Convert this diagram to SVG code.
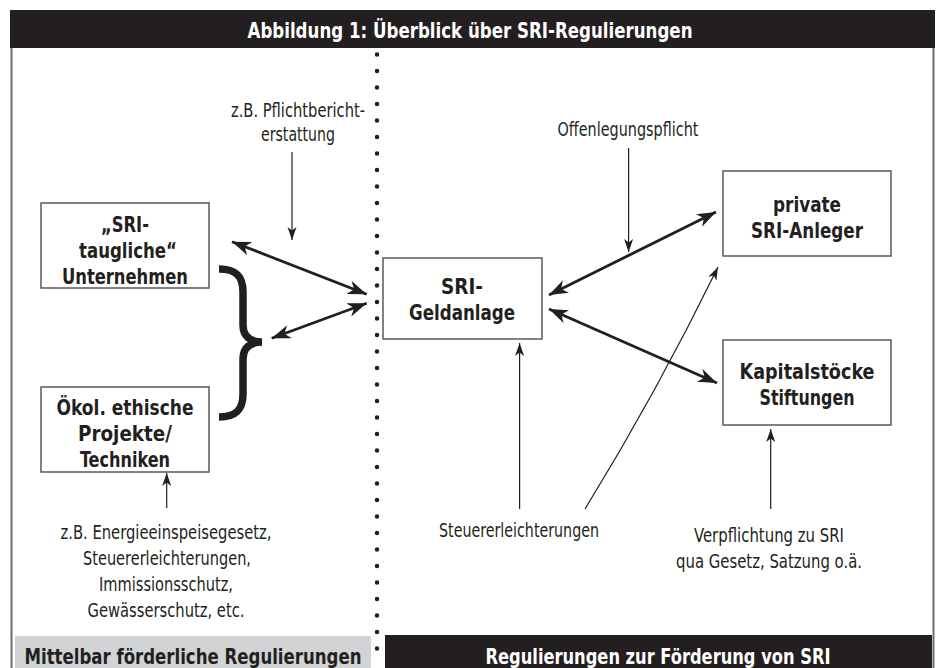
<svg xmlns="http://www.w3.org/2000/svg" width="938" height="668" viewBox="0 0 938 668">
<defs>
<style>
.box{fill:#fff;stroke:#58595b;stroke-width:1.5}
.b{font-family:"Liberation Sans Narrow","DejaVu Sans Condensed","Roboto Condensed","Liberation Sans",sans-serif;font-weight:bold;font-size:22px;fill:#231f20;text-anchor:middle}
.n{font-family:"Liberation Sans Narrow","DejaVu Sans Condensed","Roboto Condensed","Liberation Sans",sans-serif;font-weight:normal;font-size:20px;fill:#231f20;text-anchor:middle}
.w{fill:#fff}
.thick{stroke:#231f20;stroke-width:2.8;fill:none;marker-start:url(#ah);marker-end:url(#ah)}
.thin{stroke:#231f20;stroke-width:1.2;fill:none;marker-end:url(#as)}
.frame{stroke:#6d6e71;stroke-width:2;fill:none}
</style>
<marker id="ah" markerUnits="userSpaceOnUse" markerWidth="21" markerHeight="15" viewBox="0 -7.5 21 15" refX="19" refY="0" orient="auto-start-reverse">
<path d="M0,-7 L19,0 L0,7 L5.5,0 Z" fill="#231f20"/>
</marker>
<marker id="as" markerUnits="userSpaceOnUse" markerWidth="14" markerHeight="10" viewBox="0 -5 14 10" refX="13" refY="0" orient="auto">
<path d="M0,-4.5 L13,0 L0,4.5 L3.5,0 Z" fill="#231f20"/>
</marker>
</defs>
<rect width="938" height="668" fill="#fff"/>

<g id="frame">
<rect x="10" y="10" width="925" height="38" fill="#231f20"/>
<text class="b w" x="470" y="38" font-size="23" textLength="445" lengthAdjust="spacingAndGlyphs">Abbildung 1: Überblick über SRI-Regulierungen</text>
<line class="frame" x1="11.5" y1="48" x2="11.5" y2="668"/>
<line class="frame" x1="933.5" y1="48" x2="933.5" y2="668"/>
<line x1="377" y1="54.5" x2="377" y2="649" stroke="#231f20" stroke-width="4.5" stroke-linecap="round" stroke-dasharray="0 16.5"/>
<rect x="15" y="636" width="356" height="32" fill="#d1d3d4"/>
<text class="b" x="193" y="664" textLength="337" lengthAdjust="spacingAndGlyphs">Mittelbar förderliche Regulierungen</text>
<rect x="385" y="635" width="547" height="33" fill="#231f20"/>
<text class="b w" x="658" y="664" textLength="345" lengthAdjust="spacingAndGlyphs">Regulierungen zur Förderung von SRI</text>
</g>

<g id="node-sri-taugliche">
<rect class="box" x="41" y="203" width="168" height="85"/>
<text class="b" x="125" y="232" textLength="48" lengthAdjust="spacingAndGlyphs">„SRI-</text>
<text class="b" x="128" y="258" textLength="98" lengthAdjust="spacingAndGlyphs">taugliche“</text>
<text class="b" x="125" y="284" textLength="126" lengthAdjust="spacingAndGlyphs">Unternehmen</text>
</g>

<g id="node-oekol">
<rect class="box" x="41" y="387" width="168" height="85"/>
<text class="b" x="125" y="415" textLength="137" lengthAdjust="spacingAndGlyphs">Ökol. ethische</text>
<text class="b" x="125" y="441" textLength="94" lengthAdjust="spacingAndGlyphs">Projekte/</text>
<text class="b" x="125" y="467" textLength="90" lengthAdjust="spacingAndGlyphs">Techniken</text>
</g>

<g id="brace">
<path d="M219,269 C236,269 243,276 243,292 L243,325 C243,336 250,342 262,342 C250,342 243,348 243,359 L243,394 C243,410 236,417 219,417" fill="none" stroke="#231f20" stroke-width="7.5"/>
</g>

<g id="node-geldanlage">
<rect class="box" x="383" y="258" width="159" height="81"/>
<text class="b" x="462" y="294" textLength="42" lengthAdjust="spacingAndGlyphs">SRI-</text>
<text class="b" x="462" y="320" textLength="106" lengthAdjust="spacingAndGlyphs">Geldanlage</text>
</g>

<g id="node-private">
<rect class="box" x="723" y="171" width="168" height="85"/>
<text class="b" x="807" y="212" textLength="68" lengthAdjust="spacingAndGlyphs">private</text>
<text class="b" x="807" y="238" textLength="112" lengthAdjust="spacingAndGlyphs">SRI-Anleger</text>
</g>

<g id="node-kapital">
<rect class="box" x="723" y="340" width="168" height="85"/>
<text class="b" x="807" y="379" textLength="135" lengthAdjust="spacingAndGlyphs">Kapitalstöcke</text>
<text class="b" x="807" y="405" textLength="95" lengthAdjust="spacingAndGlyphs">Stiftungen</text>
</g>

<g id="labels">
<text class="n" x="298" y="117" textLength="134" lengthAdjust="spacingAndGlyphs">z.B. Pflichtbericht-</text>
<text class="n" x="298" y="141" textLength="74" lengthAdjust="spacingAndGlyphs">erstattung</text>
<text class="n" x="628" y="136" textLength="141" lengthAdjust="spacingAndGlyphs">Offenlegungspflicht</text>
<text class="n" x="519" y="537" textLength="160" lengthAdjust="spacingAndGlyphs">Steuererleichterungen</text>
<text class="n" x="769" y="542" textLength="150" lengthAdjust="spacingAndGlyphs">Verpflichtung zu SRI</text>
<text class="n" x="769" y="568" textLength="186" lengthAdjust="spacingAndGlyphs">qua Gesetz, Satzung o.ä.</text>
<text class="n" x="166" y="539" textLength="211" lengthAdjust="spacingAndGlyphs">z.B. Energieeinspeisegesetz,</text>
<text class="n" x="167" y="565" textLength="168" lengthAdjust="spacingAndGlyphs">Steuererleichterungen,</text>
<text class="n" x="166" y="591" textLength="134" lengthAdjust="spacingAndGlyphs">Immissionsschutz,</text>
<text class="n" x="166" y="617" textLength="157" lengthAdjust="spacingAndGlyphs">Gewässerschutz, etc.</text>
</g>

<g id="connectors">
<path class="thick" d="M232,241.7 L366.7,294.3"/>
<path class="thick" d="M271.7,338.3 L366.7,303.3"/>
<path class="thick" d="M549,295 L716,212"/>
<path class="thick" d="M549,309 L717,383"/>
<path class="thin" d="M292,152 L292,240"/>
<path class="thin" d="M628.6,148 L628.6,252"/>
<path class="thin" d="M519.6,509 L519.6,343"/>
<path class="thin" d="M585,509 Q657,392 718,267"/>
<path class="thin" d="M770.7,509 L770.7,429"/>
<path class="thin" d="M166.7,508 L166.7,473"/>
</g>
</svg>
